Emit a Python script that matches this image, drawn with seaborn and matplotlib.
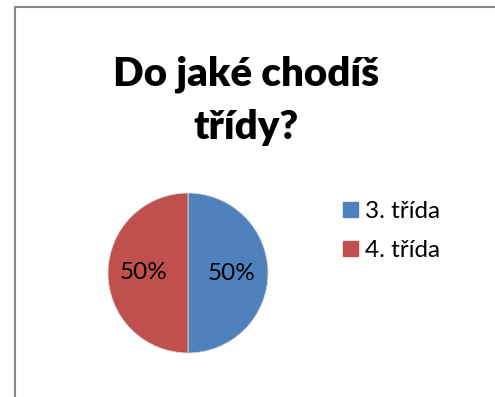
import matplotlib
matplotlib.use("Agg")
import matplotlib.pyplot as plt
import seaborn as sns
from matplotlib.lines import Line2D

categories = ["3. třída", "4. třída"]
values = [50, 50]
colors = ["#4F81BD", "#C0504D"]
title = "Do jaké chodíš\ntřídy?"

sns.set_theme(style="white")
plt.rcParams['font.family'] = ['Lato', 'DejaVu Sans']
plt.rcParams['text.color'] = 'black'

W, H = 495, 397
fig = plt.figure(figsize=(W / 100, H / 100), dpi=100)

# chart frame (left and top edges visible)
fig.add_artist(Line2D([14.5 / W, 14.5 / W], [0, 1 - 6.5 / H], color="#868686", lw=1.5))
fig.add_artist(Line2D([14.5 / W, 1], [1 - 6.5 / H, 1 - 6.5 / H], color="#868686", lw=1.5))

# pie axes: center (188, 273), radius 80
cx, cy, r = 188, 273, 80
ax = fig.add_axes([(cx - r) / W, 1 - (cy + r) / H, 2 * r / W, 2 * r / H])
wedges, texts, autotexts = ax.pie(
    values, colors=colors, startangle=90, counterclock=False,
    autopct=lambda p: f"{p:.0f}%", pctdistance=0.55,
    wedgeprops=dict(edgecolor="#D9D9D9", linewidth=0.6),
    textprops=dict(fontsize=17.5, color="black"),
)
ax.set_aspect("equal")
ax.set_xlim(-1, 1)
ax.set_ylim(-1, 1)
ax.axis("off")

fig.text(246 / W, 1 - 101 / H, title, ha="center", va="center",
         fontsize=29, fontweight="heavy", linespacing=1.55, color="black")

handles = [plt.Rectangle((0, 0), 1, 1, color=c) for c in colors]
leg = fig.legend(handles, categories, loc="center left",
                 bbox_to_anchor=(343 / W, 1 - 231 / H), frameon=False,
                 borderaxespad=0, borderpad=0,
                 fontsize=17.5, handlelength=0.6, handleheight=0.6,
                 handletextpad=0.3, labelspacing=0.75)
for t in leg.get_texts():
    t.set_color("black")

fig.savefig("out.png", dpi=100)
